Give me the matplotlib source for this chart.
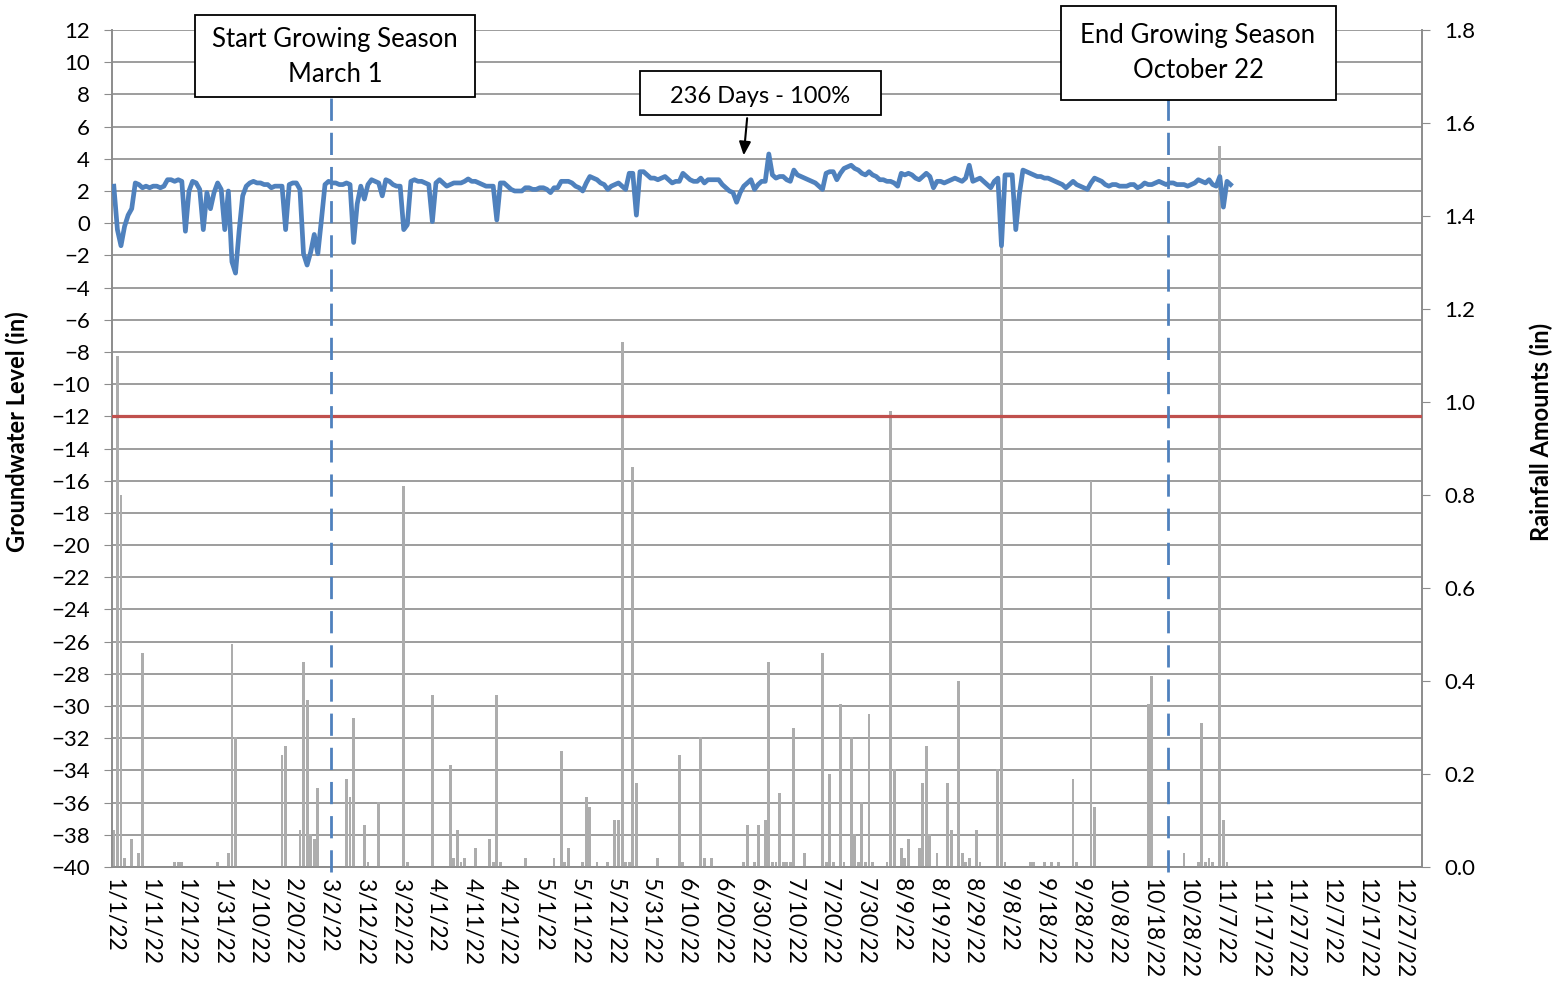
import datetime as dt
import numpy as np
import matplotlib.pyplot as plt
import matplotlib.ticker as ticker
from matplotlib.patches import Rectangle

plt.rcParams['font.family'] = ['Lato', 'DejaVu Sans']

# daily groundwater level (in); index 0 = 1/1/22, logger stops 11/9/22
gw_level = [
    2.3, -0.4, -1.4, -0.2, 0.5, 0.9, 2.5, 2.4, 2.2, 2.3,
    2.2, 2.3, 2.3, 2.2, 2.3, 2.7, 2.7, 2.6, 2.7, 2.6,
    -0.5, 2.0, 2.6, 2.5, 2.1, -0.4, 1.9, 0.9, 1.9, 2.5,
    2.1, -0.4, 2.0, -2.4, -3.1, -0.5, 1.7, 2.3, 2.5, 2.6,
    2.5, 2.5, 2.4, 2.4, 2.2, 2.3, 2.3, 2.3, -0.4, 2.4,
    2.5, 2.5, 2.1, -1.9, -2.6, -1.8, -0.7, -1.9, 0.2, 2.4,
    2.6, 2.5, 2.5, 2.4, 2.4, 2.5, 2.4, -1.2, 1.2, 2.3,
    1.5, 2.4, 2.7, 2.6, 2.5, 1.7, 2.7, 2.6, 2.4, 2.3,
    2.3, -0.4, -0.1, 2.6, 2.7, 2.6, 2.6, 2.5, 2.4, 0.1,
    2.5, 2.7, 2.5, 2.3, 2.4, 2.5, 2.5, 2.5, 2.6, 2.75,
    2.6, 2.6, 2.5, 2.4, 2.3, 2.3, 2.3, 0.2, 2.5, 2.5,
    2.3, 2.1, 2.0, 2.0, 2.0, 2.2, 2.2, 2.1, 2.1, 2.2,
    2.2, 2.1, 1.9, 2.2, 2.2, 2.6, 2.6, 2.6, 2.5, 2.3,
    2.2, 2.0, 2.5, 2.9, 2.8, 2.7, 2.5, 2.4, 2.1, 2.3,
    2.4, 2.5, 2.3, 2.1, 3.1, 3.1, 0.5, 3.2, 3.2, 3.0,
    2.8, 2.8, 2.7, 2.8, 2.9, 2.7, 2.5, 2.6, 2.6, 3.1,
    2.9, 2.7, 2.6, 2.6, 2.8, 2.5, 2.7, 2.7, 2.7, 2.7,
    2.4, 2.2, 2.0, 1.9, 1.3, 1.9, 2.3, 2.5, 2.7, 2.1,
    2.4, 2.6, 2.6, 4.3, 3.0, 2.8, 2.9, 2.9, 2.7, 2.6,
    3.3, 3.0, 2.9, 2.8, 2.7, 2.6, 2.5, 2.3, 2.1, 3.1,
    3.2, 3.2, 2.7, 3.1, 3.4, 3.5, 3.6, 3.4, 3.3, 3.1,
    3.0, 3.2, 3.0, 2.9, 2.7, 2.7, 2.6, 2.6, 2.5, 2.3,
    3.1, 3.0, 3.1, 3.0, 2.8, 2.7, 2.9, 3.1, 2.9, 2.2,
    2.6, 2.6, 2.5, 2.6, 2.7, 2.8, 2.7, 2.6, 2.8, 3.6,
    2.6, 2.7, 2.8, 2.6, 2.4, 2.2, 2.6, 2.8, -1.4, 3.0,
    3.0, 3.0, -0.4, 1.8, 3.3, 3.2, 3.1, 3.0, 2.9, 2.9,
    2.8, 2.8, 2.7, 2.6, 2.5, 2.4, 2.2, 2.4, 2.6, 2.4,
    2.3, 2.2, 2.1, 2.5, 2.8, 2.7, 2.6, 2.4, 2.3, 2.4,
    2.4, 2.3, 2.3, 2.3, 2.4, 2.4, 2.2, 2.3, 2.5, 2.4,
    2.4, 2.5, 2.6, 2.5, 2.4, 2.5, 2.5, 2.4, 2.4, 2.4,
    2.3, 2.4, 2.5, 2.7, 2.6, 2.5, 2.7, 2.4, 2.3, 2.9,
    1.0, 2.6, 2.4,
]

# daily rainfall (in), only days with rain; day 0 = 1/1/22
rain_day = [0, 1, 2, 3, 5, 7, 8, 17, 18, 19, 29, 32, 33, 34,
            47, 48, 52, 53, 54, 55, 56, 57, 65, 66, 67, 70, 71, 74,
            81, 82, 89, 94, 95, 96, 97, 98, 101, 105, 106, 107, 108,
            115, 123, 125, 126, 127, 131, 132, 133, 135, 138, 140, 141,
            142, 143, 144, 145, 146, 152, 158, 159, 164, 165, 167,
            176, 177, 179, 180, 182, 183, 184, 185, 186, 187, 188, 189,
            190, 193, 198, 199, 200, 201, 203, 204, 206, 207, 208, 209,
            210, 211, 212, 216, 217, 218, 220, 221, 222, 225, 226, 227,
            228, 230, 233, 234, 236, 237, 238, 239, 241, 242, 247, 248,
            249, 256, 257, 260, 262, 264, 268, 269, 273, 274, 289, 290,
            299, 303, 304, 305, 306, 307, 309, 310, 311]
rain_in = [0.08, 1.10, 0.80, 0.02, 0.06, 0.03, 0.46, 0.01, 0.01, 0.01, 0.01, 0.03, 0.48, 0.28,
           0.24, 0.26, 0.08, 0.44, 0.36, 0.07, 0.06, 0.17, 0.19, 0.15, 0.32, 0.09, 0.01, 0.14,
           0.82, 0.01, 0.37, 0.22, 0.02, 0.08, 0.01, 0.02, 0.04, 0.06, 0.01, 0.37, 0.01,
           0.02, 0.02, 0.25, 0.01, 0.04, 0.01, 0.15, 0.13, 0.01, 0.01, 0.10, 0.10,
           1.13, 0.01, 0.01, 0.86, 0.18, 0.02, 0.24, 0.01, 0.28, 0.02, 0.02,
           0.01, 0.09, 0.01, 0.09, 0.10, 0.44, 0.01, 0.01, 0.16, 0.01, 0.01, 0.01,
           0.30, 0.03, 0.46, 0.01, 0.20, 0.01, 0.35, 0.01, 0.28, 0.07, 0.01, 0.14,
           0.01, 0.33, 0.01, 0.01, 0.98, 0.21, 0.04, 0.02, 0.06, 0.04, 0.18, 0.26,
           0.07, 0.03, 0.18, 0.08, 0.40, 0.03, 0.01, 0.02, 0.08, 0.01, 0.21, 1.34,
           0.01, 0.01, 0.01, 0.01, 0.01, 0.01, 0.19, 0.01, 0.83, 0.13, 0.35, 0.41,
           0.03, 0.01, 0.31, 0.01, 0.02, 0.01, 1.55, 0.10, 0.01]

season_start = 60.6   # March 1 marker
season_end = 294.5    # October 22 marker
threshold = -12

start = dt.date(2022, 1, 1)
tick_days = np.arange(0, 365, 10)
tick_labels = []
for d in tick_days:
    t = start + dt.timedelta(days=int(d))
    tick_labels.append('%d/%d/%s' % (t.month, t.day, str(t.year)[2:]))

grid_c = '#8c8c8c'
blue = '#4f81bd'

fig = plt.figure(figsize=(15.56, 9.85), dpi=100)
ax1 = fig.add_axes([0.072, 0.1198, 0.8419, 0.8497])
ax2 = ax1.twinx()
ax3 = ax1.twinx()

# left axis: groundwater scale + gridlines
ax1.set_xlim(-0.5, 365.5)
ax1.set_ylim(-40, 12)
ax1.set_yticks(np.arange(-40, 13, 2))
ax1.grid(axis='y', color=grid_c, lw=1.2)
ax1.set_xticks(tick_days)
ax1.set_xticklabels(tick_labels, rotation=-90, fontsize=16.5)
ax1.tick_params(axis='x', length=0, pad=8)
ax1.tick_params(axis='y', length=6, color=grid_c, pad=10, labelsize=16)
ax1.set_ylabel('Groundwater Level (in)', fontsize=17, fontweight='bold')
ax1.yaxis.set_label_coords(-0.063, 0.52)

# right axis: rainfall bars
ax2.bar(rain_day, rain_in, width=0.8, color='#adadad')
ax2.set_ylim(0, 1.8)
ax2.set_yticks(np.arange(0, 1.81, 0.2))
ax2.yaxis.set_major_formatter(ticker.FormatStrFormatter('%.1f'))
ax2.tick_params(axis='y', length=6, color=grid_c, pad=10, labelsize=16)
ax2.set_ylabel('Rainfall Amounts (in)', fontsize=17, fontweight='bold', rotation=90)
ax2.yaxis.set_label_coords(1.082, 0.52)

for ax in (ax1, ax2):
    ax.spines['top'].set_visible(False)
    for s in ('left', 'right', 'bottom'):
        ax.spines[s].set_color(grid_c)
        ax.spines[s].set_linewidth(1.2)

# overlay: groundwater line, threshold and season markers on top of the bars
ax3.set_xlim(ax1.get_xlim())
ax3.set_ylim(ax1.get_ylim())
ax3.axis('off')
ax3.plot(np.arange(len(gw_level)), gw_level, color=blue, lw=3.4)
ax3.axhline(threshold, color='#c0504d', lw=2.3)
ax3.vlines([season_start, season_end], -40.3, 7.8, colors=blue, lw=2,
           linestyles=(0, (8, 4.3)), clip_on=False)


def label_box(x0, y0, w, h, tx, ty, text, size):
    ax3.add_patch(Rectangle((x0, y0), w, h, transform=ax3.transAxes, fc='white',
                            ec='black', lw=1.3, clip_on=False, zorder=4))
    ax3.text(tx, ty, text, transform=ax3.transAxes, ha='center', va='center',
             fontsize=size, linespacing=1.5, zorder=5)


label_box(0.0634, 0.9200, 0.2137, 0.0980, 0.1702, 0.9675,
          'Start Growing Season\nMarch 1', 18.5)
label_box(0.7244, 0.9164, 0.2099, 0.1123, 0.8290, 0.9720,
          'End Growing Season\nOctober 22', 18.5)
label_box(0.4031, 0.8984, 0.1840, 0.0526, 0.4947, 0.9200,
          '236 Days - 100%', 17)
ax3.annotate('', xy=(0.482, 0.847), xytext=(0.485, 0.898), xycoords='axes fraction',
             arrowprops=dict(arrowstyle='-|>,head_length=0.8,head_width=0.35',
                             color='black', lw=1.5))

fig.savefig('out.png', dpi=100)
